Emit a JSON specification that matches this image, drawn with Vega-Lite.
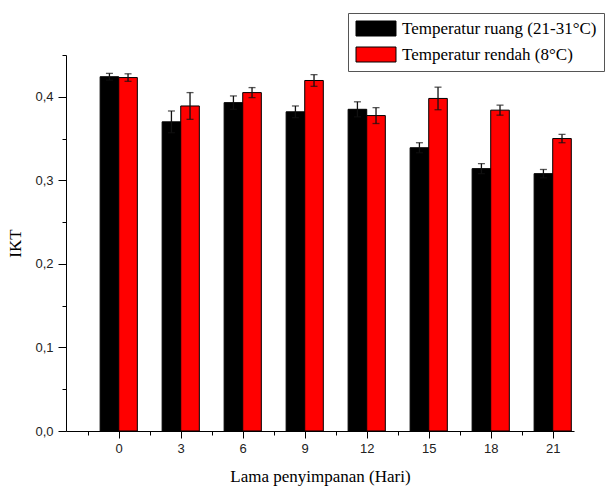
{
  "$schema": "https://vega.github.io/schema/vega-lite/v6.json",
  "width": 508,
  "height": 376,
  "autosize": "none",
  "padding": {"left": 66, "top": 55, "right": 32, "bottom": 55},
  "background": "white",
  "config": {"view": {"stroke": null}, "font": "Liberation Sans"},
  "data": {
    "values": [
      {"day": 0, "temp": "Temperatur ruang (21-31°C)", "ikt": 0.424, "lo": 0.420, "hi": 0.428},
      {"day": 0, "temp": "Temperatur rendah (8°C)", "ikt": 0.423, "lo": 0.4185, "hi": 0.4275},
      {"day": 3, "temp": "Temperatur ruang (21-31°C)", "ikt": 0.370, "lo": 0.357, "hi": 0.383},
      {"day": 3, "temp": "Temperatur rendah (8°C)", "ikt": 0.389, "lo": 0.373, "hi": 0.405},
      {"day": 6, "temp": "Temperatur ruang (21-31°C)", "ikt": 0.393, "lo": 0.385, "hi": 0.401},
      {"day": 6, "temp": "Temperatur rendah (8°C)", "ikt": 0.405, "lo": 0.399, "hi": 0.411},
      {"day": 9, "temp": "Temperatur ruang (21-31°C)", "ikt": 0.382, "lo": 0.375, "hi": 0.389},
      {"day": 9, "temp": "Temperatur rendah (8°C)", "ikt": 0.4195, "lo": 0.4125, "hi": 0.4265},
      {"day": 12, "temp": "Temperatur ruang (21-31°C)", "ikt": 0.385, "lo": 0.376, "hi": 0.394},
      {"day": 12, "temp": "Temperatur rendah (8°C)", "ikt": 0.3775, "lo": 0.368, "hi": 0.387},
      {"day": 15, "temp": "Temperatur ruang (21-31°C)", "ikt": 0.339, "lo": 0.333, "hi": 0.345},
      {"day": 15, "temp": "Temperatur rendah (8°C)", "ikt": 0.398, "lo": 0.3845, "hi": 0.4115},
      {"day": 18, "temp": "Temperatur ruang (21-31°C)", "ikt": 0.314, "lo": 0.308, "hi": 0.320},
      {"day": 18, "temp": "Temperatur rendah (8°C)", "ikt": 0.384, "lo": 0.378, "hi": 0.390},
      {"day": 21, "temp": "Temperatur ruang (21-31°C)", "ikt": 0.308, "lo": 0.303, "hi": 0.313},
      {"day": 21, "temp": "Temperatur rendah (8°C)", "ikt": 0.350, "lo": 0.345, "hi": 0.355}
    ]
  },
  "layer": [
    {
      "encoding": {
        "x": {"field": "day", "type": "ordinal", "scale": {"paddingInner": 0.4, "paddingOuter": 0.297, "align": 0.927}, "axis": null},
        "xOffset": {"field": "temp", "type": "nominal", "scale": {"domain": ["Temperatur ruang (21-31°C)", "Temperatur rendah (8°C)"]}}
      },
      "layer": [
        {
          "mark": {"type": "bar", "stroke": "#000000", "strokeWidth": 1},
          "encoding": {
            "y": {
              "field": "ikt", "type": "quantitative",
              "scale": {"domain": [0, 0.45], "nice": false},
              "axis": {
                "title": "IKT",
                "titleFont": "Liberation Serif", "titleFontSize": 17, "titleFontWeight": "normal", "titleColor": "#000000",
                "titlePadding": 10,
                "values": [0, 0.05, 0.1, 0.15, 0.2, 0.25, 0.3, 0.35, 0.4, 0.45],
                "labelExpr": "round(datum.value*20) % 2 == 1 ? '' : replace(format(datum.value, '.1f'), '.', ',')",
                "labelFont": "Liberation Sans", "labelFontSize": 13, "labelColor": "#222222", "labelPadding": 5,
                "tickSize": {"condition": {"test": "round(datum.value*20) % 2 == 1", "value": 4}, "value": 8},
                "tickColor": "#000000", "domainColor": "#000000", "grid": false, "labelFlush": false, "labelOverlap": false
              }
            },
            "color": {
              "field": "temp", "type": "nominal",
              "scale": {"domain": ["Temperatur ruang (21-31°C)", "Temperatur rendah (8°C)"], "range": ["#000000", "#ff0000"]},
              "legend": {
                "title": null, "orient": "none", "legendX": 282, "legendY": -42,
                "labelFont": "Liberation Serif", "labelFontSize": 17, "labelColor": "#000000", "labelLimit": 400,
                "symbolType": "M-1,-1H4.333V1H-1Z", "symbolSize": 225,
                "symbolStrokeColor": "#000000", "symbolStrokeWidth": 1, "symbolOpacity": 1,
                "strokeColor": "#555555", "fillColor": "white", "padding": 7, "rowPadding": 7, "labelOffset": 30
              }
            }
          }
        },
        {
          "mark": {"type": "rule", "color": "#111111", "strokeWidth": 1.3},
          "encoding": {"y": {"field": "lo", "type": "quantitative"}, "y2": {"field": "hi"}}
        },
        {
          "mark": {"type": "tick", "color": "#111111", "thickness": 1.3, "size": 7},
          "encoding": {"y": {"field": "hi", "type": "quantitative"}}
        },
        {
          "mark": {"type": "tick", "color": "#111111", "thickness": 1.3, "size": 7},
          "encoding": {"y": {"field": "lo", "type": "quantitative"}}
        }
      ]
    },
    {
      "mark": {"type": "point", "opacity": 0},
      "encoding": {
        "x": {
          "field": "day", "type": "quantitative",
          "scale": {"domain": [-2.55, 22.03], "nice": false, "zero": false},
          "axis": {
            "title": "Lama penyimpanan (Hari)", "orient": "bottom",
            "values": [-1.5, 0, 1.5, 3, 4.5, 6, 7.5, 9, 10.5, 12, 13.5, 15, 16.5, 18, 19.5, 21],
            "labelExpr": "round(datum.value*2) % 6 != 0 ? '' : format(datum.value, 'd')",
            "tickSize": {"condition": {"test": "round(datum.value*2) % 6 != 0", "value": 4}, "value": 7},
            "labelFont": "Liberation Sans", "labelFontSize": 13, "labelColor": "#222222", "labelPadding": 4,
            "titleFont": "Liberation Serif", "titleFontSize": 17, "titleFontWeight": "normal", "titleColor": "#000000",
            "titlePadding": 13, "grid": false, "domainColor": "#000000", "tickColor": "#000000",
            "labelFlush": false, "labelOverlap": false
          }
        }
      }
    }
  ],
  "resolve": {"scale": {"x": "independent"}, "axis": {"x": "independent"}}
}
